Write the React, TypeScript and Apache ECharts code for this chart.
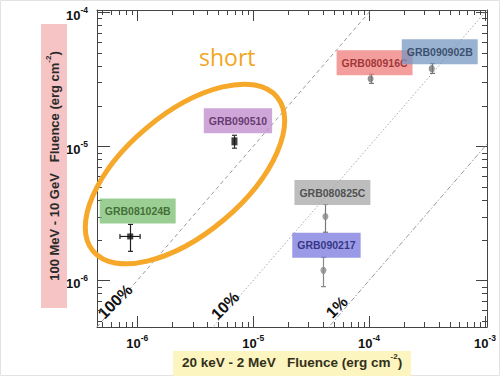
import React, { useEffect, useRef } from 'react';
import * as echarts from 'echarts';

// ---------- data ----------
const grbNames = ['GRB081024B', 'GRB090510', 'GRB080916C', 'GRB090902B', 'GRB080825C', 'GRB090217'];
const gbmFluence = [8.7e-7, 6.9e-6, 1.03e-4, 3.47e-4, 4.2e-5, 4.04e-5];
const gbmLow = [7.1e-7, 6.9e-6, 1.03e-4, 3.47e-4, 4.2e-5, 4.04e-5];
const gbmHigh = [1.06e-6, 6.9e-6, 1.03e-4, 3.47e-4, 4.2e-5, 4.04e-5];
const latFluence = [2.13e-6, 1.09e-5, 3.19e-5, 3.8e-5, 3.0e-6, 1.19e-6];
const latLow = [1.65e-6, 9.7e-6, 2.95e-5, 3.5e-5, 2.29e-6, 9.0e-7];
const latHigh = [2.62e-6, 1.21e-5, 3.45e-5, 4.15e-5, 3.69e-6, 1.49e-6];

const ratioValues = [1, 0.1, 0.01];
const ratioLabels = ['100%', '10%', '1%'];
const ratioLabelX = [6.45e-7, 5.74e-6, 5.27e-5];
const ratioLabelY = [6.97e-7, 6.5e-7, 6.32e-7];

const xRange = [4.5e-7, 1.04e-3];
const yRange = [4.5e-7, 1.04e-4];
const minorMultipliers = [2, 3, 4, 5, 6, 7, 8, 9];
const minorDecades = [1e-7, 1e-6, 1e-5, 1e-4];

// ---------- styles ----------
const pointStyles = [
  { symbol: 'rect', size: [6, 6], color: '#111', bar: '#222', bg: 'rgba(118,188,108,0.92)', fg: '#2c5520', offset: [7.5, -25.5] },
  { symbol: 'rect', size: [6, 8], color: '#111', bar: '#333', bg: 'rgba(192,138,204,0.95)', fg: '#4a1d55', offset: [3.5, -20.5] },
  { symbol: 'circle', size: [6, 7], color: '#777', bar: '#777', bg: 'rgba(240,122,122,0.92)', fg: '#8a1a1a', offset: [4, -16] },
  { symbol: 'circle', size: [6, 7], color: '#777', bar: '#777', bg: 'rgba(118,150,192,0.92)', fg: '#1e3654', offset: [8, -17] },
  { symbol: 'circle', size: [6, 7], color: '#888', bar: '#777', bg: 'rgba(168,168,168,0.95)', fg: '#333333', offset: [7, -24] },
  { symbol: 'circle', size: [6, 7], color: '#888', bar: '#888', bg: 'rgba(122,122,222,0.95)', fg: '#1a1a6a', offset: [3, -25] },
];
const ratioLineStyles = [
  { type: [4, 3], color: '#9a9a9a' },
  { type: [1.5, 2], color: '#a8a8a8' },
  { type: [5, 2, 1.5, 2], color: '#9a9a9a' },
];

const FONT = 'Arial, Liberation Sans, sans-serif';
const RATIO_ANGLE = 45;

function powLabel(value: number) {
  const e = Math.round(Math.log10(value));
  if (Math.abs(value / Math.pow(10, e) - 1) > 1e-6) return '';
  return '{b|10}{s|' + e + '}';
}
const powRich = {
  b: { fontSize: 13, fontWeight: 'bold', color: '#111', fontFamily: FONT, lineHeight: 20, verticalAlign: 'middle' },
  s: { fontSize: 8.5, fontWeight: 'bold', color: '#111', fontFamily: FONT, lineHeight: 10, verticalAlign: 'top' },
};

export default function App() {
  const ref = useRef<HTMLDivElement>(null);
  useEffect(() => {
    document.body.style.margin = '0';
    const chart = echarts.init(ref.current!, undefined, { renderer: 'svg' });

    const minorData: number[][] = [];
    minorDecades.forEach((d) => {
      minorMultipliers.forEach((m) => {
        const v = d * m;
        if (v > xRange[0] && v < xRange[1]) minorData.push([v, yRange[0], 0]);
        if (v > yRange[0] && v < yRange[1]) minorData.push([xRange[0], v, 1]);
      });
    });

    const errData = grbNames.map((_, i) => [gbmFluence[i], latFluence[i], gbmLow[i], gbmHigh[i], latLow[i], latHigh[i]]);

    const axisLineStyle = { color: '#444', width: 1 };
    const majorTick = { show: true, inside: true, length: 11, lineStyle: { color: '#444', width: 1 } };

    const baseGraphics: any[] = [
      { id: 'ytbox', type: 'rect', z: 1, shape: { x: 41, y: 24, width: 26, height: 284 }, style: { fill: '#f6c4c4' } },
      {
        id: 'yt', type: 'text', z: 2, x: 54, y: 166, rotation: Math.PI / 2,
        style: {
          text: '{b|100 MeV - 10 GeV   Fluence (erg cm}{s|-2}{b|)}',
          align: 'center', verticalAlign: 'middle', textAlign: 'center', textVerticalAlign: 'middle',
          rich: {
            b: { fontSize: 13, fontWeight: 'bold', fill: '#2a2a2a', fontFamily: FONT, lineHeight: 20, verticalAlign: 'middle' },
            s: { fontSize: 8, fontWeight: 'bold', fill: '#2a2a2a', fontFamily: FONT, lineHeight: 11, verticalAlign: 'top' },
          },
        },
      },
      { id: 'xtbox', type: 'rect', z: 1, shape: { x: 173, y: 351, width: 238, height: 25 }, style: { fill: '#fcf5bf' } },
      {
        id: 'xt', type: 'text', z: 2, x: 182, y: 362,
        style: {
          text: '{b|20 keV - 2 MeV   Fluence (erg cm}{s|-2}{b|)}',
          align: 'left', verticalAlign: 'middle', textAlign: 'left', textVerticalAlign: 'middle',
          rich: {
            b: { fontSize: 13.5, fontWeight: 'bold', fill: '#33301a', fontFamily: FONT, lineHeight: 20, verticalAlign: 'middle' },
            s: { fontSize: 8, fontWeight: 'bold', fill: '#33301a', fontFamily: FONT, lineHeight: 11, verticalAlign: 'top' },
          },
        },
      },
      {
        id: 'short', type: 'text', z: 20, x: 199, y: 57,
        style: {
          text: 'short', fontSize: 23, fontFamily: 'Open Sans, sans-serif', fill: '#f2a622',
          align: 'left', verticalAlign: 'middle', textAlign: 'left', textVerticalAlign: 'middle',
        },
      },
      {
        id: 'ell', type: 'ellipse', z: 20, x: 185, y: 174, rotation: (40 * Math.PI) / 180,
        shape: { cx: 0, cy: 0, rx: 120, ry: 60 },
        style: { fill: 'none', stroke: '#f5a82a', lineWidth: 5 },
      },
      { id: 'frame', type: 'rect', z: 0, shape: { x: 0.5, y: 0.5, width: 499, height: 375 }, style: { fill: 'none', stroke: '#e2e2e2', lineWidth: 1 } },
    ];

    const option: any = {
      animation: false,
      backgroundColor: '#ffffff',
      grid: { left: 97, top: 10, width: 390, height: 317, containLabel: false },
      xAxis: [
        {
          type: 'log', logBase: 10, min: xRange[0], max: xRange[1], position: 'bottom',
          axisLine: { show: true, onZero: false, lineStyle: axisLineStyle },
          axisTick: majorTick, splitLine: { show: false },
          axisLabel: { formatter: powLabel, rich: powRich, margin: 6, showMinLabel: false, showMaxLabel: true },
        },
        {
          type: 'log', logBase: 10, min: xRange[0], max: xRange[1], position: 'top',
          axisLine: { show: true, onZero: false, lineStyle: axisLineStyle },
          axisTick: majorTick, splitLine: { show: false }, axisLabel: { show: false },
        },
      ],
      yAxis: [
        {
          type: 'log', logBase: 10, min: yRange[0], max: yRange[1], position: 'left',
          axisLine: { show: true, onZero: false, lineStyle: axisLineStyle },
          axisTick: { ...majorTick, length: 13 }, splitLine: { show: false },
          axisLabel: { formatter: powLabel, rich: powRich, margin: 9, padding: [6, 0, 0, 0], showMinLabel: false, showMaxLabel: true },
        },
        {
          type: 'log', logBase: 10, min: yRange[0], max: yRange[1], position: 'right',
          axisLine: { show: true, onZero: false, lineStyle: axisLineStyle },
          axisTick: majorTick, splitLine: { show: false }, axisLabel: { show: false },
        },
      ],
      series: [
        // minor ticks
        {
          type: 'custom', silent: true, clip: false, xAxisIndex: 0, yAxisIndex: 0, z: 5,
          data: minorData,
          renderItem: (params: any, api: any) => {
            const cs = params.coordSys;
            const kind = api.value(2);
            const st = { stroke: '#444', lineWidth: 1 };
            if (kind === 0) {
              const px = Math.round(api.coord([api.value(0), yRange[0]])[0]) + 0.5;
              return {
                type: 'group', children: [
                  { type: 'line', shape: { x1: px, y1: cs.y + cs.height, x2: px, y2: cs.y + cs.height - 5 }, style: st },
                  { type: 'line', shape: { x1: px, y1: cs.y, x2: px, y2: cs.y + 5 }, style: st },
                ],
              };
            }
            const py = Math.round(api.coord([xRange[0], api.value(1)])[1]) + 0.5;
            return {
              type: 'group', children: [
                { type: 'line', shape: { x1: cs.x, y1: py, x2: cs.x + 5, y2: py }, style: st },
                { type: 'line', shape: { x1: cs.x + cs.width, y1: py, x2: cs.x + cs.width - 5, y2: py }, style: st },
              ],
            };
          },
        },
        // ratio lines
        ...ratioValues.map((r, i) => ({
          type: 'line', name: ratioLabels[i], silent: true, symbol: 'none', clip: true, z: 2,
          data: [[xRange[0], xRange[0] * r], [xRange[1], xRange[1] * r]],
          lineStyle: { width: 1, type: ratioLineStyles[i].type, color: ratioLineStyles[i].color },
        })),
        // error bars
        {
          type: 'custom', silent: true, clip: false, z: 6,
          data: errData,
          renderItem: (params: any, api: any) => {
            const ps = pointStyles[params.dataIndex];
            const x = api.value(0), y = api.value(1);
            const c = api.coord([x, y]);
            const top = api.coord([x, api.value(5)]);
            const bot = api.coord([x, api.value(4)]);
            const left = api.coord([api.value(2), y]);
            const right = api.coord([api.value(3), y]);
            const st = { stroke: ps.bar, lineWidth: 1.2 };
            const cx = Math.round(c[0]) + 0.5;
            const children: any[] = [
              { type: 'line', shape: { x1: cx, y1: top[1], x2: cx, y2: bot[1] }, style: st },
              { type: 'line', shape: { x1: cx - 2.5, y1: top[1], x2: cx + 2.5, y2: top[1] }, style: st },
              { type: 'line', shape: { x1: cx - 2.5, y1: bot[1], x2: cx + 2.5, y2: bot[1] }, style: st },
            ];
            if (right[0] - left[0] > 1) {
              children.push(
                { type: 'line', shape: { x1: left[0], y1: c[1], x2: right[0], y2: c[1] }, style: st },
                { type: 'line', shape: { x1: left[0], y1: c[1] - 2.5, x2: left[0], y2: c[1] + 2.5 }, style: st },
                { type: 'line', shape: { x1: right[0], y1: c[1] - 2.5, x2: right[0], y2: c[1] + 2.5 }, style: st },
              );
            }
            return { type: 'group', children };
          },
        },
        // points with label boxes
        {
          type: 'scatter', silent: true, z: 8,
          data: grbNames.map((n, i) => {
            const ps = pointStyles[i];
            return {
              name: n,
              value: [gbmFluence[i], latFluence[i]],
              symbol: ps.symbol,
              symbolSize: ps.size,
              itemStyle: { color: ps.color },
              label: {
                show: true, position: 'inside', offset: ps.offset, formatter: '{b}',
                backgroundColor: ps.bg, color: ps.fg,
                fontSize: 10.5, fontWeight: 'bold', fontFamily: FONT, lineHeight: 12,
                padding: [8, 5, 5, 5],
              },
            };
          }),
        },
      ],
      graphic: baseGraphics,
    };
    chart.setOption(option);

    // rotated ratio labels, placed at data coordinates through the axes
    const ratioPix = ratioLabels.map((_, i) =>
      chart.convertToPixel({ xAxisIndex: 0, yAxisIndex: 0 }, [ratioLabelX[i], ratioLabelY[i]]) as number[]
    );
    const ratioGraphics = ratioLabels.map((t, i) => ({
      id: 'ratio' + i, type: 'text', z: 3, x: ratioPix[i][0], y: ratioPix[i][1], rotation: (RATIO_ANGLE * Math.PI) / 180,
      style: {
        text: t, fontSize: 16, fontWeight: 'bold', fill: '#111', fontFamily: FONT,
        align: 'center', verticalAlign: 'middle', textAlign: 'center', textVerticalAlign: 'middle',
      },
    }));
    chart.setOption({ graphic: [...baseGraphics, ...ratioGraphics] });

    // make sure the rotation of the ratio labels is present in the SVG output
    const fixRotation = () => {
      const root = ref.current;
      if (!root) return;
      const texts = Array.from(root.querySelectorAll('text'));
      ratioLabels.forEach((t, i) => {
        const el = texts.find((n) => (n.textContent || '').trim() === t);
        if (!el) return;
        const [px, py] = ratioPix[i];
        el.setAttribute('x', String(px));
        el.setAttribute('y', String(py));
        el.setAttribute('text-anchor', 'middle');
        el.setAttribute('dominant-baseline', 'central');
        el.setAttribute('transform', `rotate(${-RATIO_ANGLE} ${px} ${py})`);
      });
    };
    fixRotation();
    chart.on('finished', fixRotation);
    const timer = window.setTimeout(fixRotation, 50);

    return () => {
      window.clearTimeout(timer);
      chart.dispose();
    };
  }, []);
  return <div ref={ref} style={{ position: 'absolute', left: 0, top: 0, width: 500, height: 376 }} />;
}
